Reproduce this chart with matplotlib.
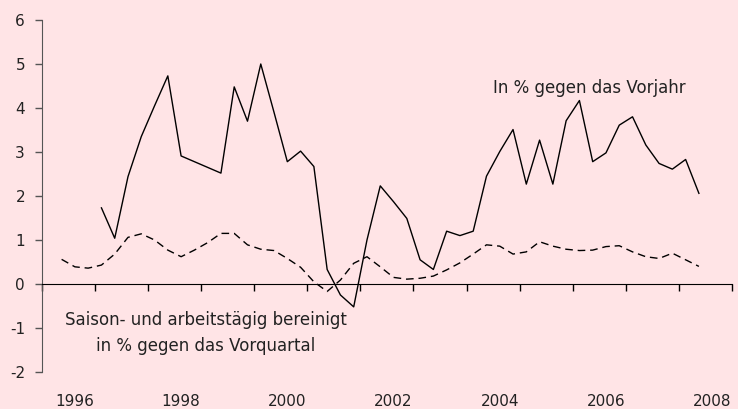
'''
Chart: growth rates in % (year-on-year and quarter-on-quarter)
'''
import matplotlib
matplotlib.use("Agg")
import matplotlib.pyplot as plt
import numpy as np

# quarterly values, index = quarter position on the category axis
yoy_start = 4   # first quarter with a year-on-year value
yoy = [1.73, 1.04, 2.44, 3.35, 4.05, 4.73, 2.91, 2.78, 2.65, 2.52,
       4.48, 3.70, 5.00, 3.90, 2.78, 3.02, 2.67, 0.33, -0.25, -0.52,
       1.00, 2.23, 1.87, 1.49, 0.55, 0.33, 1.20, 1.10, 1.20, 2.45,
       3.01, 3.51, 2.27, 3.27, 2.27, 3.71, 4.17, 2.78, 2.98, 3.61,
       3.80, 3.16, 2.74, 2.61, 2.83, 2.06]

qoq_start = 1   # first quarter with a quarter-on-quarter value
qoq = [0.56, 0.39, 0.36, 0.43, 0.68, 1.06, 1.14, 1.00, 0.77, 0.62,
       0.77, 0.94, 1.15, 1.15, 0.89, 0.79, 0.76, 0.58, 0.38, 0.05,
       -0.17, 0.09, 0.47, 0.62, 0.39, 0.15, 0.11, 0.13, 0.18, 0.32,
       0.48, 0.68, 0.89, 0.86, 0.68, 0.73, 0.96, 0.86, 0.79, 0.76,
       0.77, 0.85, 0.87, 0.73, 0.62, 0.58, 0.70, 0.55, 0.40]

year_labels = ["1996", "1998", "2000", "2002", "2004", "2006", "2008"]
y_ticks = [-2, -1, 0, 1, 2, 3, 4, 5, 6]

bg = "#FFE4E6"
plt.rcParams['font.family'] = ['DejaVu Sans']


def main():
    fig = plt.figure(figsize=(7.38, 4.09), dpi=100)
    fig.patch.set_facecolor(bg)
    ax = fig.add_axes([0.0565, 0.0905, 0.9355, 0.8606])
    ax.set_facecolor(bg)

    # categories sit in the middle of their slot
    x_yoy = np.arange(yoy_start, yoy_start + len(yoy)) + 0.5
    x_qoq = np.arange(qoq_start, qoq_start + len(qoq)) + 0.5
    ax.plot(x_yoy, yoy, color="black", lw=1.0)
    ax.plot(x_qoq, qoq, color="black", lw=1.0, dashes=(5.5, 3.5))

    ax.set_xlim(0, 52)
    ax.set_ylim(-2, 6)

    # spines: y axis on the left, x axis through zero
    for side in ["top", "right"]:
        ax.spines[side].set_visible(False)
    ax.spines["left"].set_color("#555555")
    ax.spines["bottom"].set_position(("data", 0))
    ax.spines["bottom"].set_color("black")

    ax.set_yticks(y_ticks)
    ax.set_yticklabels([str(v) for v in y_ticks])
    ax.tick_params(axis="y", direction="out", length=5, width=1,
                   color="#555555", pad=7, labelsize=11, labelcolor="#222222")
    ax.set_xticks(np.arange(0, 53, 4))
    ax.tick_params(axis="x", direction="out", length=5, width=1,
                   color="black", labelbottom=False)

    # year labels below the plot
    for k, lab in enumerate(year_labels):
        ax.text(2.5 + 8 * k, -2.66, lab, ha="center", va="center",
                fontsize=11, color="#222222", clip_on=False)

    ax.text(34.0, 4.45, "In % gegen das Vorjahr", ha="left", va="center",
            fontsize=12, color="#222222")
    ax.text(12.37, -0.82, "Saison- und arbeitstägig bereinigt", ha="center",
            va="center", fontsize=12, color="#222222")
    ax.text(12.37, -1.41, "in % gegen das Vorquartal", ha="center",
            va="center", fontsize=12, color="#222222")

    fig.savefig("out.png", dpi=100, facecolor=bg)


if __name__ == '__main__':
    main()
